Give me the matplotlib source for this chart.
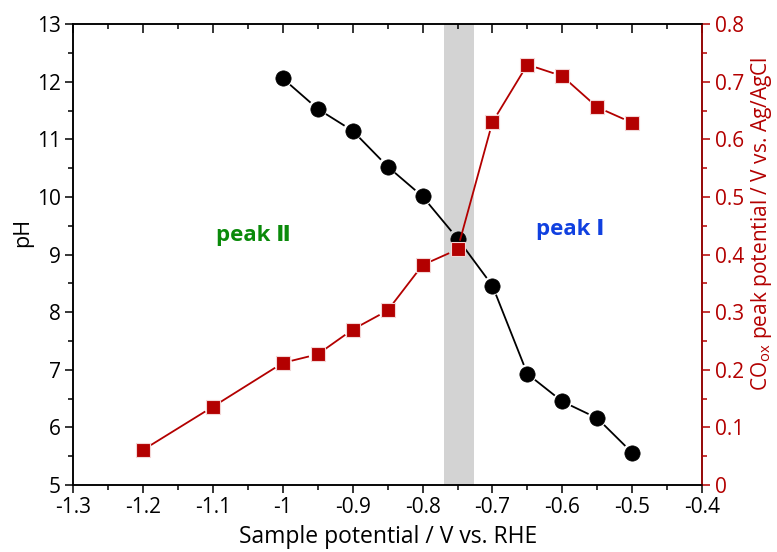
import matplotlib
matplotlib.use("Agg")
import numpy as np
import matplotlib.pyplot as plt
from matplotlib.ticker import MultipleLocator

plt.rcParams['font.family'] = ['Open Sans', 'DejaVu Sans']

# Sample potential (V vs. RHE)
potential_ph = [-1.0, -0.95, -0.9, -0.85, -0.8, -0.75, -0.7, -0.65, -0.6, -0.55, -0.5]
ph_values = [12.06, 11.53, 11.15, 10.53, 10.01, 9.28, 8.46, 6.93, 6.45, 6.16, 5.56]

potential_co = [-1.2, -1.1, -1.0, -0.95, -0.9, -0.85, -0.8, -0.75, -0.7, -0.65, -0.6, -0.55, -0.5]
co_peak = [0.061, 0.136, 0.212, 0.227, 0.270, 0.303, 0.382, 0.409, 0.630, 0.730, 0.710, 0.656, 0.629]

band = (-0.77, -0.727)

red = '#B30000'

fig = plt.figure(figsize=(7.77, 5.52), dpi=100)
ax = fig.add_axes([0.0943, 0.1214, 0.8092, 0.8346])
ax2 = ax.twinx()

ax.set_xlim(-1.3, -0.4)
ax.set_ylim(5, 13)
ax2.set_ylim(0, 0.8)


def gapped_line(axis, xs, ys, gap_px, **kw):
    """Connect points with segments that stop short of each marker."""
    pts = axis.transData.transform(np.column_stack([xs, ys]))
    inv = axis.transData.inverted()
    for p, q in zip(pts[:-1], pts[1:]):
        d = q - p
        length = np.hypot(*d)
        if length <= 2 * gap_px:
            continue
        u = d / length
        seg = inv.transform(np.vstack([p + u * gap_px, q - u * gap_px]))
        axis.plot(seg[:, 0], seg[:, 1], **kw)


ax.axvspan(band[0], band[1], color='#D3D3D3', lw=0, zorder=0)

gapped_line(ax, potential_ph, ph_values, 10.5, color='black', lw=1.3, zorder=2)
ax.plot(potential_ph, ph_values, ls='none', marker='o', ms=11,
        mfc='black', mec='black', mew=0.5, zorder=3)

gapped_line(ax2, potential_co, co_peak, 10, color=red, lw=1.3, zorder=2)
ax2.plot(potential_co, co_peak, ls='none', marker='s', ms=10.5,
         mfc=red, mec='#F3D6D6', mew=0.8, zorder=3)

ax.xaxis.set_minor_locator(MultipleLocator(0.05))
ax.yaxis.set_major_locator(MultipleLocator(1))
ax.yaxis.set_minor_locator(MultipleLocator(0.5))
ax2.yaxis.set_minor_locator(MultipleLocator(0.05))

xt = [-1.3 + 0.1 * i for i in range(10)]
ax.set_xticks(xt)
ax.set_xticklabels([f"{v:.1f}".replace("-1.0", "-1") for v in xt])
ax2.set_yticks([0.1 * i for i in range(9)])
ax2.set_yticklabels(["0"] + [f"{0.1 * i:.1f}" for i in range(1, 9)])

ax.tick_params(axis='both', which='major', direction='out', length=6, width=1.1,
               labelsize=15, pad=3)
ax.tick_params(axis='both', which='minor', direction='out', length=3.5, width=1.1)
ax.tick_params(axis='x', which='both', top=True, labeltop=False)
ax2.tick_params(axis='y', which='major', direction='out', length=6, width=1.1,
                labelsize=15, colors=red, pad=3)
ax2.tick_params(axis='y', which='minor', direction='out', length=3.5, width=1.1,
                colors=red)

# top ticks point into the plot
for t in ax.xaxis.get_major_ticks():
    t.tick2line.set_marker(3)
    t.tick2line.set_markersize(6.5)
for t in ax.xaxis.get_minor_ticks():
    t.tick2line.set_marker(3)
    t.tick2line.set_markersize(3.5)

for s in ax.spines.values():
    s.set_linewidth(1.1)
for s in ax2.spines.values():
    s.set_linewidth(1.1)
ax2.spines['right'].set_color(red)

ax.set_xlabel('Sample potential / V vs. RHE', fontsize=16.5, labelpad=5)
ax.set_ylabel('pH', fontsize=15.5)
ax.yaxis.set_label_coords(-0.064, 0.549)
ax2.set_ylabel(r'CO$_{\mathregular{ox}}$ peak potential / V vs. Ag/AgCl', fontsize=15,
               color=red)
ax2.yaxis.set_label_coords(1.075, 0.567)

ax.text(-1.042, 9.33, 'peak Ⅱ', color='#0A8A0A', fontsize=16, fontweight='bold',
        ha='center', va='center', family=['Open Sans', 'DejaVu Sans'])
ax.text(-0.589, 9.43, 'peak Ⅰ', color='#1040E0', fontsize=16, fontweight='bold',
        ha='center', va='center', family=['Open Sans', 'DejaVu Sans'])

fig.savefig('out.png', dpi=100)
